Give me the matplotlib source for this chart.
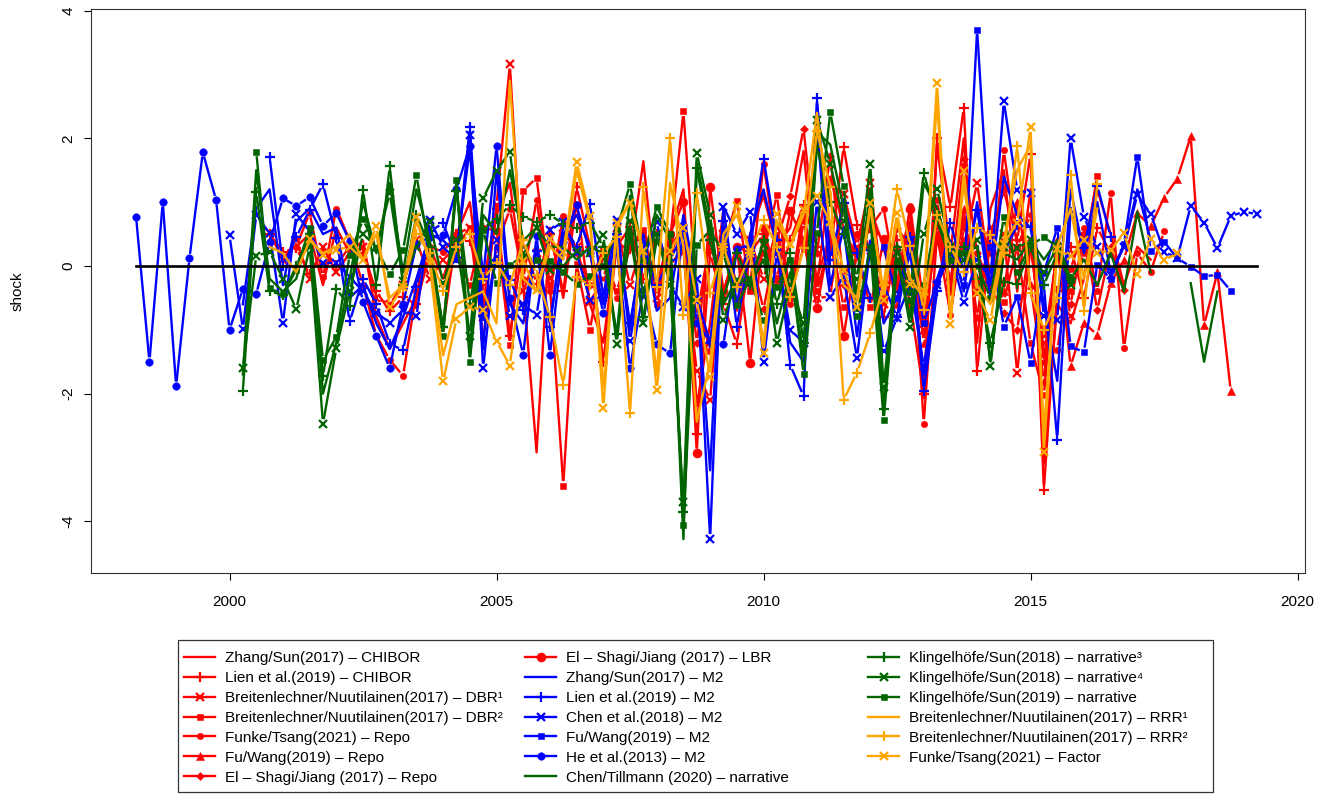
import numpy as np
import matplotlib
matplotlib.use("Agg")
import matplotlib.pyplot as plt
from matplotlib.collections import LineCollection
from matplotlib.lines import Line2D
from matplotlib.patches import Rectangle

plt.rcParams['font.family'] = ['Liberation Sans', 'DejaVu Sans']
plt.rcParams['axes.unicode_minus'] = False

# ---------------- data: quarterly shocks, start = first quarter (decimal year) -------------
zs_chibor_start = 2001.25
zs_chibor = [0.30, 0.50, -0.30, 0.60, 0.20, 0.40, -0.80, -1.30, -0.90, -0.50,
             0.30, -0.20, 0.50, 1.00, -0.60, 0.80, 1.30, -0.30, -2.92, 0.60,
             -0.50, 1.00, -0.60, -1.20, 0.40, 0.20, 1.64, -0.40, 0.50, 1.20,
             -2.20, -0.90, 0.90, -0.70, 0.50, 1.10, 0.30, 0.60, 1.80, -0.30,
             1.40, 0.60, 0.10, 0.90, 0.30, -0.40, 0.70, -2.00, 1.90, 0.20,
             2.00, -1.20, 0.90, 1.50, -0.40, 1.20, -3.10, -0.60, -0.90, -0.20,
             1.20, 0.50, -0.30, 0.30, 0.10]

lien_chibor_start = 2000.75
lien_chibor = [0.50, 0.22, 0.28, -0.13, 0.25, 0.02, 0.30, 0.20, -0.40, -0.71,
               -0.49, -0.60, 0.20, -0.96, 0.50, 0.39, -0.30, 0.90, -1.10, 0.40,
               -0.28, 0.50, -0.40, 1.24, 0.30, -1.50, 0.30, 0.61, -0.20, 0.50,
               0.00, 0.30, -2.63, 0.20, -0.60, -1.22, 0.20, 0.50, -0.30, 0.40,
               0.95, 0.30, 0.20, 1.87, 0.64, 0.30, -0.80, 0.40, -0.60, -2.00,
               2.00, 0.92, 2.48, -1.65, 0.50, 1.18, 0.40, 1.75, -3.51, -0.40,
               0.30, -0.50, 0.60, 0.20]

dbr1_start = 2000.75
dbr1 = [0.51, 0.10, 0.40, -0.20, 0.30, -0.10, 0.20, 0.30, -0.50, -0.60,
        -0.30, 0.40, -0.20, 0.10, 0.30, 0.60, -0.80, 0.95, 3.16, -0.40,
        0.20, -0.19, 0.50, 0.30, -0.56, -0.20, 0.60, -0.30, 0.40, -0.50,
        0.30, 0.20, -1.65, -2.10, 0.50, -0.30, 0.40, -0.20, 0.60, -0.40,
        0.90, -0.50, -0.48, 1.13, 0.30, 1.30, -0.60, 0.20, -0.30, -1.00,
        0.60, -0.40, 0.30, 1.30, -0.20, 0.50, -1.67, 0.30, -1.20, 0.20,
        -0.78]

dbr2_start = 2004.25
dbr2 = [0.20, -0.30, 0.60, 0.55, -1.24, 1.18, 1.38, -0.30, -3.44, 0.03,
        -1.00, 0.20, -0.40, 0.30, 0.57, -0.60, 0.40, 2.42, -0.50, -1.33,
        0.30, 1.02, -0.40, 0.20, 1.11, -0.50, 0.30, -0.20, 0.50, -0.64,
        0.20, -0.64, 0.40, -0.20, 0.30, -0.80, 1.03, -0.30, 0.40, -0.20,
        0.20, -0.56, 0.30, -1.21, -2.02, 0.30, -0.40, 0.20, 1.41]

funke_repo_start = 2001.25
funke_repo = [0.30, 0.83, -0.18, 0.90, 0.40, -0.30, -1.09, -1.47, -1.72, -0.40,
              0.30, 0.22, 0.50, 0.60, -1.13, 0.30, 0.89, -0.20, 1.04, -0.40,
              0.78, 0.20, -0.30, 0.28, -0.50, 0.30, 0.48, -0.30, 0.20, 0.60,
              -0.80, 0.40, -0.50, 0.30, -0.30, 1.60, 0.20, -0.60, 0.70, -0.40,
              0.40, -0.20, 0.50, 0.60, 0.90, -0.30, 0.94, -2.47, 0.50, -0.77,
              0.60, 0.20, -0.40, 1.81, 0.30, 0.80, -1.40, -1.31, -0.05, 0.60,
              -0.40, 1.14, -1.29, 0.20, -0.09, 0.54]

fuwang_repo_start = 2012.25
fuwang_repo = [0.30, -0.60, 0.50, -1.20, 0.80, -0.40, 0.90, -0.80, 0.60, -0.40,
               1.00, -0.30, -1.80, 0.40, -1.57, -0.89, -1.08, -0.27, 0.10, 0.83,
               0.62, 1.07, 1.37, 2.03, -0.93, -0.10, -1.96]

elshagi_repo_start = 2008.25
elshagi_repo = [0.30, 0.60, -1.20, 0.50, -0.40, 0.30, 0.20, -0.68, 0.40, 1.09,
                2.15, 0.20, 1.73, -0.30, 0.50, 0.20, -0.50, 0.60, 0.30, -0.90,
                0.70, -0.30, 1.68, 0.20, -0.30, -0.74, -1.00, 0.40, -1.50, 0.30,
                -0.60, 0.50, -0.69, 0.30, -0.38]

elshagi_lbr_start = 2007.75
elshagi_lbr = [0.40, -0.30, 0.50, 1.00, -2.93, 1.23, -0.40, 0.30, -1.52, 0.60,
               -0.20, 0.86, 0.40, -0.66, 0.50, -1.10, 0.20, 0.60, 0.43, -0.30,
               0.90, -0.60, 0.40, -0.20, 0.70, -0.40, 0.30]

zs_m2_start = 2000.25
zs_m2 = [-0.60, 0.90, 1.20, -0.30, 0.70, 0.90, 0.50, 0.60, -0.50, -0.30,
         -0.90, -1.30, -0.80, -0.20, 0.50, 0.40, 0.20, 1.85, -1.30, 1.50,
         -0.60, -0.90, 0.30, -0.90, 0.50, 0.80, 0.30, -0.60, 0.60, -1.00,
         0.50, -0.70, -0.50, 0.80, -0.30, -3.20, 0.90, -0.60, 0.50, 1.20,
         0.30, -1.20, -1.50, 2.20, -0.30, 0.60, -1.10, 0.40, -0.90, -0.50,
         0.20, -1.70, -0.20, 0.40, -0.40, 1.00, -0.30, 1.40, 0.80, 0.60,
         -0.60, -1.80, 1.20, 0.20, 1.00, -0.10, 0.30, 1.20, 0.40]

lien_m2_start = 2000.75
lien_m2 = [1.71, 0.00, 0.45, 0.88, 1.28, 0.44, -0.87, -0.20, -0.60, -1.22,
           -1.32, -0.33, 0.54, 0.67, 0.12, 2.18, -0.79, 0.10, -0.22, -0.69,
           0.24, -0.95, 0.64, 0.30, 0.97, -0.48, 0.50, -0.90, 0.30, -0.30,
           0.10, 0.51, -0.50, -1.20, 0.70, -0.95, 0.30, 1.68, 0.40, -1.55,
           -2.04, 2.63, 0.09, 0.98, 0.20, -0.50, -0.30, -0.80, 0.46, -1.96,
           -0.40, 0.68, -0.10, 0.88, -0.50, 0.20, 0.64, 0.61, -0.30, -2.72,
           0.85, 0.28, 1.26, 0.46]

chen_m2_start = 2000.0
chen_m2 = [0.48, -0.99, 0.80, 0.51, -0.89, 0.81, 0.55, 0.05, 0.05, -0.17,
           -0.40, -0.73, -0.89, -0.69, -0.79, 0.72, 0.30, 0.09, 2.05, -1.60,
           0.41, -0.79, -0.60, -0.77, 0.56, 0.69, 0.20, -0.53, -0.48, 0.72,
           -1.18, 0.10, 0.69, -0.30, -0.64, -0.20, -4.27, 0.93, 0.50, 0.85,
           -1.50, 0.20, -1.00, -1.20, 1.00, -0.48, -0.17, -1.44, 0.30, -1.34,
           -0.81, -0.27, -1.57, -0.30, 0.20, -0.56, 0.10, -0.20, 2.58, 1.19,
           1.14, -0.79, -0.84, 2.00, 0.77, 0.30, -0.14, 0.30, 1.11, 0.82,
           0.22, 0.13, 0.94, 0.68, 0.28, 0.78, 0.85, 0.81]

fuwang_m2_start = 2012.25
fuwang_m2 = [0.30, -0.50, 0.40, -0.90, -0.25, 0.22, -0.30, 3.70, 0.30, -0.95,
             -0.48, -1.52, -0.11, 0.60, -1.26, -1.35, 0.02, -0.20, 0.35, 1.71,
             0.24, 0.38, 0.12, -0.01, -0.16, -0.14, -0.39]

he_m2_start = 1998.25
he_m2 = [0.77, -1.50, 1.00, -1.88, 0.12, 1.78, 1.03, -1.00, -0.36, -0.44,
         0.37, 1.06, 0.94, 1.08, 0.63, 0.83, 0.39, -0.56, -1.10, -1.60,
         -0.60, 0.34, 0.45, 0.48, 1.20, 1.88, -0.17, 1.88, -0.50, -1.39,
         0.47, -1.39, 0.38, 0.95, 0.20, -0.74, 0.30, -1.60, -0.37, -1.23,
         -1.37, 0.64, -0.90, -1.18, -1.23, 0.26, 0.34]

chentill_start = 2000.25
chentill = [-1.70, 1.50, -0.20, -0.40, -0.20, 0.60, -2.00, -1.20, -0.20, 1.00,
            0.20, 1.30, -0.10, 1.20, 0.40, -1.00, 1.30, -1.30, 0.80, 0.50,
            1.50, 0.40, 0.60, 0.30, 0.30, 0.10, 0.30, 0.20, -1.10, 1.10,
            -0.50, 0.80, 0.40, -4.28, 1.60, 0.60, -0.60, -0.20, -0.30, 0.10,
            -0.90, -0.10, -1.40, 2.10, 1.90, 0.90, -0.50, 1.20, -2.30, 0.10,
            -0.80, 1.30, 0.90, 0.20, 0.20, 0.30, -1.50, 0.20, 0.10, 0.40,
            0.10, 0.40, -0.20, 0.10, -0.30, 0.20, -0.40, 0.85, -0.10, np.nan,
            np.nan, -0.27, -1.50, -0.40]

kl18_3_start = 2000.25
kl18_3 = [-1.96, 1.16, -0.40, -0.45, 0.00, 0.50, -1.73, -0.36, -0.63, 1.19,
          -0.30, 1.56, -0.30, 0.80, 0.30, -0.96, 1.18, -0.60, 0.59, 0.74,
          0.95, 0.77, 0.69, 0.80, 0.66, 0.60, 0.68, 0.30, -1.06, 0.50,
          -0.80, 0.40, 0.00, -3.85, 1.54, 0.40, -0.50, 0.20, -0.30, 0.40,
          -0.60, 0.20, -1.20, 1.87, 1.00, 0.50, -0.40, 0.80, -2.24, 0.30,
          -0.40, 1.46, 0.70, 0.10, 0.30, -0.20, -1.20, -0.25, -0.28, 0.30,
          -0.30, 0.20, -0.20]

kl18_4_start = 2000.25
kl18_4 = [-1.60, 0.16, 0.22, -0.20, -0.68, 0.30, -2.47, -1.29, -0.40, 0.50,
          0.30, 1.14, -0.24, 0.30, 0.69, -0.27, 0.40, -1.09, 1.06, 1.49,
          1.79, 0.20, 0.60, -0.06, 0.00, 0.24, 0.20, 0.48, -1.22, 0.70,
          -0.90, 0.50, -0.30, -3.70, 1.77, 0.80, -0.84, -0.22, -0.20, 0.33,
          -1.21, -0.30, -0.90, 2.29, 1.60, 0.70, -0.20, 1.59, -1.90, 0.20,
          -0.96, 0.50, 1.20, 0.30, 0.10, 0.40, -1.56, 0.30, 0.28, 0.40,
          -0.10, 0.30, -0.30]

kl19_start = 2000.5
kl19 = [1.79, -0.35, -0.44, -0.06, 0.59, -1.48, -1.11, 0.17, 0.73, 0.28,
        -0.13, 0.25, 1.42, 0.20, -1.10, 1.35, -1.50, 0.56, -0.27, 0.02,
        0.15, 0.09, 0.08, -0.10, -0.28, -0.15, 0.00, 0.56, 1.28, 0.10,
        0.93, 0.50, -4.06, 0.33, 0.56, 0.20, -0.61, -0.20, -0.84, -0.33,
        0.10, -1.70, 0.52, 2.41, 1.25, -0.79, 0.30, -2.42, 0.05, -0.53,
        -0.30, 0.82, 0.10, 0.20, 0.00, -0.50, 0.76, -0.09, 0.33, 0.45,
        0.30, -0.21]

rrr1_start = 2000.75
rrr1 = [0.30, 0.20, -0.10, 0.40, 0.20, 0.30, 0.50, 0.10, 0.50, -0.50,
        -0.30, 0.70, 0.10, -1.40, -0.60, -0.50, -0.40, -0.90, 2.90, -0.20,
        -0.40, 0.30, 0.10, 1.50, 0.70, -1.90, 0.60, 1.00, 0.20, -1.70,
        1.30, 0.30, -2.44, -1.50, 0.50, 0.80, 0.20, -1.20, 0.70, 0.30,
        0.80, 2.40, 0.60, -0.30, -0.50, 0.90, -0.40, 0.70, -0.20, -0.50,
        2.60, -0.80, 1.30, -0.30, -0.60, 0.40, 1.50, 1.90, -2.60, 0.30,
        0.90, -0.20, 0.90]

rrr2_start = 2003.25
rrr2 = [-0.33, 0.50, 0.20, -0.40, 0.30, 0.50, -0.20, 0.05, -0.30, 0.40,
        -0.14, -0.80, -1.86, -0.18, -0.30, 0.20, 0.46, -2.31, 1.24, -0.33,
        2.01, -0.77, 1.14, -0.42, 0.30, -0.33, 0.20, 0.72, 0.30, -0.49,
        0.28, 2.11, 1.24, -2.10, -1.67, -1.05, -0.30, 1.20, 0.31, -0.69,
        0.80, 0.30, -0.10, 0.60, 0.48, 0.20, 1.88, -0.42, -1.00, -0.50,
        1.42, -0.71, 1.28]

funke_factor_start = 2001.5
funke_factor = [0.43, 0.17, 0.25, 0.30, 0.10, 0.62, -0.64, -0.33, 0.76, 0.03,
                -1.81, -0.83, -0.64, -0.69, -1.18, -1.56, 0.07, -0.38, 0.42, 0.22,
                1.63, 0.78, -2.22, 0.68, 0.99, 0.24, -1.95, 0.24, 0.60, -0.53,
                -1.74, 0.30, 0.94, 0.20, -1.36, 0.81, 0.34, 0.88, 1.09, 0.69,
                -0.06, -0.64, 0.98, -0.53, 0.83, -0.29, -0.40, 2.86, -0.91, 1.49,
                -0.43, -0.85, 0.35, 0.68, 2.17, -2.92, 0.26, 0.15, 0.41, 0.20,
                0.25, 0.51, -0.13, 0.42, 0.09, 0.20]

labels = [
    "Zhang/Sun(2017) \u2013 CHIBOR",
    "Lien et al.(2019) \u2013 CHIBOR",
    "Breitenlechner/Nuutilainen(2017) \u2013 DBR\u00b9",
    "Breitenlechner/Nuutilainen(2017) \u2013 DBR\u00b2",
    "Funke/Tsang(2021) \u2013 Repo",
    "Fu/Wang(2019) \u2013 Repo",
    "El \u2013 Shagi/Jiang (2017) \u2013 Repo",
    "El \u2013 Shagi/Jiang (2017) \u2013 LBR",
    "Zhang/Sun(2017) \u2013 M2",
    "Lien et al.(2019) \u2013 M2",
    "Chen et al.(2018) \u2013 M2",
    "Fu/Wang(2019) \u2013 M2",
    "He et al.(2013) \u2013 M2",
    "Chen/Tillmann (2020) \u2013 narrative",
    "Klingelh\u00f6fe/Sun(2018) \u2013 narrative\u00b3",
    "Klingelh\u00f6fe/Sun(2018) \u2013 narrative\u2074",
    "Klingelh\u00f6fe/Sun(2019) \u2013 narrative",
    "Breitenlechner/Nuutilainen(2017) \u2013 RRR\u00b9",
    "Breitenlechner/Nuutilainen(2017) \u2013 RRR\u00b2",
    "Funke/Tsang(2021) \u2013 Factor",
]
starts = [zs_chibor_start, lien_chibor_start, dbr1_start, dbr2_start, funke_repo_start,
          fuwang_repo_start, elshagi_repo_start, elshagi_lbr_start, zs_m2_start,
          lien_m2_start, chen_m2_start, fuwang_m2_start, he_m2_start, chentill_start,
          kl18_3_start, kl18_4_start, kl19_start, rrr1_start, rrr2_start, funke_factor_start]
values = [zs_chibor, lien_chibor, dbr1, dbr2, funke_repo, fuwang_repo, elshagi_repo,
          elshagi_lbr, zs_m2, lien_m2, chen_m2, fuwang_m2, he_m2, chentill,
          kl18_3, kl18_4, kl19, rrr1, rrr2, funke_factor]

# ---------------- styles -------------
RED, BLUE, GREEN, ORANGE = '#FF0000', '#0000FF', '#006400', '#FFA500'
colors = [RED] * 8 + [BLUE] * 5 + [GREEN] * 4 + [ORANGE] * 3
markers = [None, '+', 'x', 's', 'o', '^', 'D', 'o',
           None, '+', 'x', 's', 'o',
           None, '+', 'x', 's',
           None, '+', 'x']
msizes = [0, 7, 5.5, 5, 4.6, 6, 3.6, 6.5,
          0, 7, 5.5, 5, 5.4,
          0, 7, 5.5, 5,
          0, 7, 5.5]

W, H = 1321, 796
fig = plt.figure(figsize=(W / 100, H / 100), dpi=100)
ax = fig.add_axes([91 / W, 1 - 573 / H, (1305 - 91) / W, (573 - 8.7) / H])
ax.set_xlim(1997.406, 2020.14)
ax.set_ylim(-4.81, 4.03)

LW = 1.7
GAP = 4.5  # pixel gap around points (R type = "b")


def quarters(start, n):
    return start + 0.25 * np.arange(n)


def gapped_line(x, y, color, z):
    P = ax.transData.transform(np.column_stack([x, y]))
    inv = ax.transData.inverted()
    segs = []
    for p0, p1 in zip(P[:-1], P[1:]):
        if not (np.all(np.isfinite(p0)) and np.all(np.isfinite(p1))):
            continue
        d = p1 - p0
        L = np.hypot(d[0], d[1])
        if L <= 2 * GAP:
            continue
        u = d / L
        segs.append(inv.transform(np.array([p0 + u * GAP, p1 - u * GAP])))
    ax.add_collection(LineCollection(segs, colors=color, linewidths=LW,
                                     zorder=z, capstyle='butt'))


def mew_for(mk):
    return 1.6 if mk in ('+', 'x') else 0.4


handles = []
for i, (lab, st, vals, col, mk, ms) in enumerate(zip(labels, starts, values, colors, markers, msizes)):
    v = np.array(vals, dtype=float)
    x = quarters(st, len(v))
    z = 2 + 0.1 * i
    if mk is None:
        ax.plot(x, v, color=col, lw=LW, zorder=z)
        handles.append(Line2D([0], [0], color=col, lw=LW))
    else:
        gapped_line(x, v, col, z)
        ax.plot(x, v, ls='none', marker=mk, ms=ms, color=col, mec=col,
                mew=mew_for(mk), zorder=z + 0.05)
        handles.append(Line2D([0], [0], color=col, lw=LW, marker=mk, ms=ms,
                              mec=col, mew=mew_for(mk)))

# zero reference line over the sample
ax.plot([1998.25, 2019.25], [0, 0], color='black', lw=1.9, zorder=10)

ax.set_xticks([2000, 2005, 2010, 2015, 2020])
ax.set_yticks([-4, -2, 0, 2, 4])
ax.tick_params(axis='x', direction='out', length=5, width=0.8, labelsize=11, pad=11)
ax.tick_params(axis='y', direction='out', length=5, width=0.8, labelsize=11, pad=6)
for lbl in ax.get_yticklabels():
    lbl.set_rotation(90)
    lbl.set_va('center')
for s in ax.spines.values():
    s.set_linewidth(0.8)
    s.set_color('#333333')

fig.text(18 / W, 1 - 291 / H, "shock", rotation=90, ha='center', va='center', fontsize=11)

# legend: three columns inside one frame
col_x = [184, 525, 868]
groups = [(0, 7), (7, 14), (14, 20)]
for (a, b), xpx in zip(groups, col_x):
    fig.legend(handles[a:b], labels[a:b], loc='upper left',
               bbox_to_anchor=(xpx / W, 1 - 651 / H), frameon=False,
               fontsize=11, handlelength=2.05, handletextpad=0.65,
               labelspacing=0.39, borderpad=0, borderaxespad=0, numpoints=1)
fig.add_artist(Rectangle((178 / W, 1 - 792 / H), (1213 - 178) / W, (792 - 640) / H,
                         transform=fig.transFigure, fill=False, lw=0.9,
                         edgecolor='#333333'))

fig.savefig("out.png", dpi=100)
